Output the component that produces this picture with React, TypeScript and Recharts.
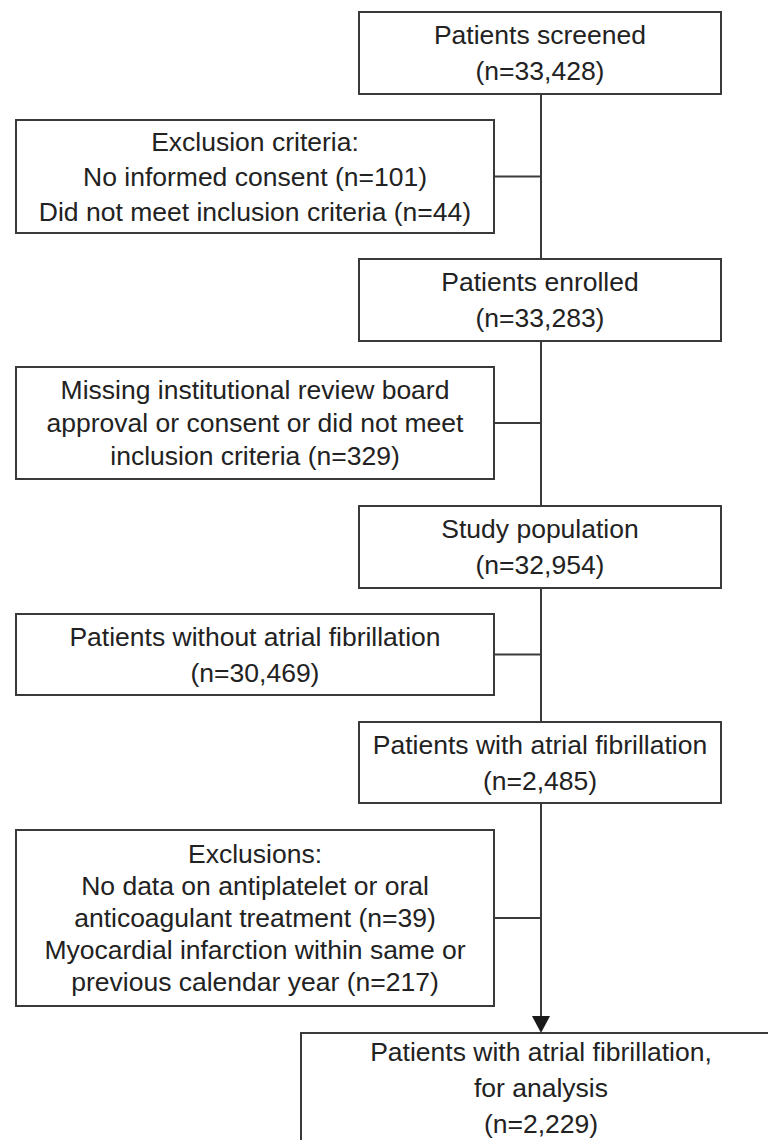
import React from "react";
import { ComposedChart, XAxis, YAxis, ReferenceArea, ReferenceLine, Scatter } from "recharts";

// ---- Data ----
const stepTitles = [
  ["Patients screened"],
  ["Patients enrolled"],
  ["Study population"],
  ["Patients with atrial fibrillation"],
  ["Patients with atrial fibrillation,", "for analysis"],
];
const stepCounts = [33428, 33283, 32954, 2485, 2229];

const exclusionLines = [
  ["Exclusion criteria:", "No informed consent (n=101)", "Did not meet inclusion criteria (n=44)"],
  ["Missing institutional review board", "approval or consent or did not meet", "inclusion criteria (n=329)"],
  ["Patients without atrial fibrillation"],
  [
    "Exclusions:",
    "No data on antiplatelet or oral",
    "anticoagulant treatment (n=39)",
    "Myocardial infarction within same or",
    "previous calendar year (n=217)",
  ],
];
const exclusionCounts = [null, null, 30469, null];

// ---- Layout (chart coordinate space) ----
const W = 768;
const H = 1140;
const stepBoxes = [
  { x1: 359, x2: 721, y1: 12, y2: 94, lh: 36 },
  { x1: 359, x2: 721, y1: 259, y2: 341, lh: 36 },
  { x1: 359, x2: 721, y1: 506, y2: 588, lh: 36 },
  { x1: 359, x2: 721, y1: 722, y2: 803, lh: 36 },
  { x1: 301, x2: 779, y1: 1033, y2: 1170, lh: 36, cy: 1088 },
];
const exclBoxes = [
  { x1: 16, x2: 494, y1: 120, y2: 233, lh: 35 },
  { x1: 16, x2: 494, y1: 367, y2: 479, lh: 33 },
  { x1: 16, x2: 494, y1: 614, y2: 695, lh: 36 },
  { x1: 16, x2: 494, y1: 830, y2: 1006, lh: 32 },
];
const spineX = 541;
const arrowLen = 17;

const STROKE = "#3a3a3a";
const TEXT = "#222";
const FONT = "'Liberation Sans', Arial, Helvetica, sans-serif";
const FS = 26.5;

const fmt = (n: number) => n.toLocaleString("en-US");

const stepLabelLines = stepTitles.map((t, i) => [...t, `(n=${fmt(stepCounts[i])})`]);
const exclLabelLines = exclusionLines.map((t, i) =>
  exclusionCounts[i] != null ? [...t, `(n=${fmt(exclusionCounts[i] as number)})`] : t
);

const labelPoints = [
  ...stepBoxes.map((b, i) => ({
    x: (b.x1 + b.x2) / 2 - (i === 4 ? 0 : 0),
    y: b.cy != null ? b.cy : (b.y1 + b.y2) / 2,
    lines: stepLabelLines[i],
    lh: b.lh,
  })),
  ...exclBoxes.map((b, i) => ({
    x: (b.x1 + b.x2) / 2,
    y: (b.y1 + b.y2) / 2,
    lines: exclLabelLines[i],
    lh: b.lh,
  })),
];
// fix box 9 text centre to the spine
labelPoints[4].x = spineX;

const spineSegments = stepBoxes.slice(0, -1).map((b, i) => ({
  y1: b.y2,
  y2: i === stepBoxes.length - 2 ? stepBoxes[i + 1].y1 - arrowLen : stepBoxes[i + 1].y1,
}));
const branchSegments = exclBoxes.map((b) => ({ x1: b.x2, x2: spineX, y: (b.y1 + b.y2) / 2 }));
const arrowPoints = [{ x: spineX, y: stepBoxes[4].y1 }];

const renderLabel = (props: any) => {
  const { cx, cy, payload } = props;
  const lines: string[] = payload.lines;
  const lh: number = payload.lh;
  const n = lines.length;
  return (
    <text
      x={cx}
      y={cy}
      textAnchor="middle"
      fontFamily={FONT}
      fontSize={FS}
      fill={TEXT}
    >
      {lines.map((l, i) => (
        <tspan key={i} x={cx} y={cy + (i - (n - 1) / 2) * lh} dominantBaseline="central">
          {l}
        </tspan>
      ))}
    </text>
  );
};

const renderArrow = (props: any) => {
  const { cx, cy } = props;
  const hw = 9;
  return (
    <polygon
      points={`${cx - hw},${cy - arrowLen} ${cx + hw},${cy - arrowLen} ${cx},${cy}`}
      fill="#1a1a1a"
    />
  );
};

export default function App() {
  return (
    <div style={{ position: "absolute", left: 0, top: 0, width: W, height: H, background: "#fff", overflow: "hidden" }}>
      <ComposedChart width={W} height={H} margin={{ top: 0, right: 0, bottom: 0, left: 0 }}>
        <XAxis type="number" dataKey="x" domain={[0, W]} hide allowDataOverflow />
        <YAxis type="number" dataKey="y" domain={[0, H]} reversed hide width={0} allowDataOverflow />
        {spineSegments.map((s, i) => (
          <ReferenceLine
            key={`sp${i}`}
            segment={[
              { x: spineX, y: s.y1 },
              { x: spineX, y: s.y2 },
            ]}
            stroke={STROKE}
            strokeWidth={2}
            ifOverflow="visible"
          />
        ))}
        {branchSegments.map((s, i) => (
          <ReferenceLine
            key={`br${i}`}
            segment={[
              { x: s.x1, y: s.y },
              { x: s.x2, y: s.y },
            ]}
            stroke={STROKE}
            strokeWidth={2}
            ifOverflow="visible"
          />
        ))}
        {[...stepBoxes, ...exclBoxes].map((b, i) => (
          <ReferenceArea
            key={`bx${i}`}
            x1={b.x1}
            x2={b.x2}
            y1={b.y1}
            y2={b.y2}
            fill="#fff"
            fillOpacity={1}
            stroke={STROKE}
            strokeWidth={2}
            ifOverflow="visible"
          />
        ))}
        <Scatter data={labelPoints} dataKey="y" shape={renderLabel} isAnimationActive={false} />
        <Scatter data={arrowPoints} dataKey="y" shape={renderArrow} isAnimationActive={false} />
      </ComposedChart>
    </div>
  );
}
